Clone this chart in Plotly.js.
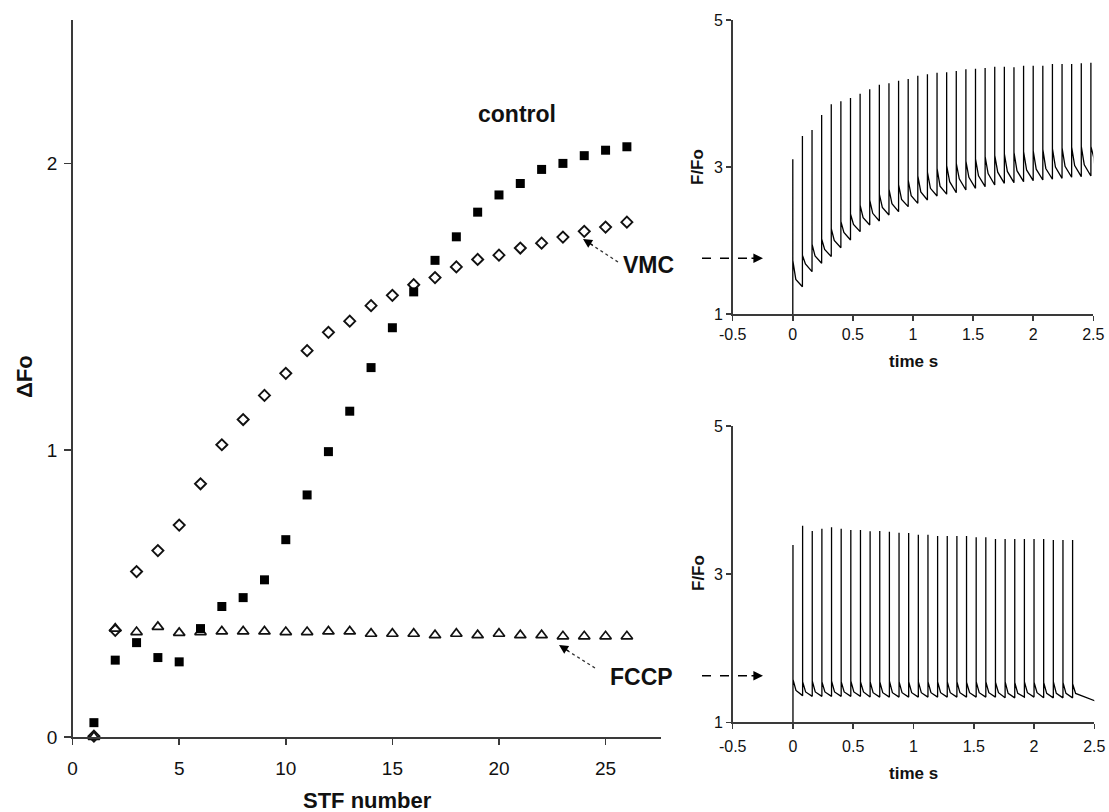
<!DOCTYPE html>
<html>
<head>
<meta charset="utf-8">
<script src="https://cdn.plot.ly/plotly-3.0.1.min.js"></script>
<style>html,body{margin:0;padding:0;background:#fff;}#chart{width:1109px;height:812px;}</style>
</head>
<body>
<div id="chart"></div>
<script>
// ---------- Main panel data (ΔFo vs STF number) ----------
const stfNumber = [1,2,3,4,5,6,7,8,9,10,11,12,13,14,15,16,17,18,19,20,21,22,23,24,25,26];
const controlDFo = [0.05,0.268,0.329,0.277,0.262,0.378,0.455,0.486,0.548,0.688,0.844,0.995,1.136,1.288,1.427,1.552,1.662,1.744,1.83,1.89,1.93,1.979,2.0,2.027,2.046,2.058];
const vmcDFo = [0.003,0.372,0.577,0.65,0.739,0.883,1.019,1.107,1.191,1.268,1.347,1.411,1.45,1.504,1.54,1.577,1.602,1.639,1.665,1.68,1.705,1.722,1.743,1.763,1.778,1.795];
const fccpDFo = [0.0,0.378,0.366,0.384,0.363,0.366,0.368,0.368,0.368,0.366,0.366,0.368,0.368,0.36,0.36,0.36,0.355,0.36,0.355,0.36,0.355,0.355,0.351,0.351,0.351,0.351];
const mainXTicks = [0,5,10,15,20,25];
const mainYTicks = [0,1,2];

// ---------- Top inset (control trace, F/Fo vs time s) ----------
const timesA = [0,0.08,0.16,0.24,0.32,0.40,0.48,0.56,0.64,0.72,0.80,0.88,0.96,1.04,1.12,1.20,1.28,1.36,1.44,1.52,1.60,1.68,1.76,1.84,1.92,2.00,2.08,2.16,2.24,2.32,2.40,2.48];
const troughsA = [1.0,1.371,1.576,1.69,1.781,1.902,2.007,2.12,2.211,2.265,2.347,2.392,2.46,2.506,2.551,2.605,2.63,2.65,2.687,2.71,2.732,2.755,2.778,2.787,2.80,2.814,2.823,2.833,2.846,2.86,2.869,2.878];
const peaksA = [3.105,3.422,3.503,3.707,3.853,3.894,3.939,3.997,4.057,4.12,4.139,4.174,4.197,4.242,4.261,4.283,4.288,4.306,4.329,4.337,4.347,4.365,4.365,4.356,4.378,4.378,4.378,4.401,4.401,4.401,4.41,4.418];
const shouldersA = [1.73,1.80,1.95,2.02,2.16,2.26,2.36,2.48,2.55,2.63,2.70,2.76,2.82,2.88,2.93,2.98,3.02,3.05,3.08,3.11,3.14,3.16,3.18,3.20,3.21,3.22,3.24,3.25,3.26,3.27,3.28,3.28];
const kneesA = [1.47,1.68,1.79,1.88,2.0,2.11,2.22,2.31,2.37,2.45,2.5,2.56,2.61,2.66,2.71,2.74,2.80,2.84,2.86,2.88,2.91,2.93,2.94,2.95,2.96,2.97,2.98,3.0,3.01,3.02,3.03,3.12];
const kneeDelay = 0.025;
const endA = [2.51, 3.05];

// ---------- Bottom inset (FCCP trace) ----------
const timesB = [0,0.08,0.16,0.24,0.32,0.40,0.48,0.56,0.64,0.72,0.80,0.88,0.96,1.04,1.12,1.20,1.28,1.36,1.44,1.52,1.60,1.68,1.76,1.84,1.92,2.00,2.08,2.16,2.24,2.32];
const troughsB = [1.0,1.36,1.35,1.35,1.35,1.35,1.35,1.35,1.34,1.34,1.34,1.34,1.34,1.34,1.34,1.34,1.34,1.34,1.34,1.34,1.34,1.34,1.33,1.33,1.34,1.34,1.33,1.33,1.33,1.33];
const peaksB = [3.393,3.653,3.582,3.613,3.632,3.613,3.595,3.595,3.578,3.582,3.572,3.559,3.555,3.532,3.532,3.514,3.514,3.514,3.514,3.497,3.497,3.474,3.474,3.474,3.474,3.474,3.474,3.46,3.46,3.46];
const shouldersB = [1.58,1.55,1.56,1.55,1.56,1.55,1.56,1.55,1.55,1.55,1.56,1.55,1.55,1.55,1.55,1.55,1.55,1.55,1.54,1.55,1.55,1.54,1.55,1.54,1.55,1.54,1.54,1.55,1.54,1.52];
const kneesB = [1.43,1.41,1.41,1.41,1.41,1.41,1.41,1.41,1.40,1.40,1.40,1.40,1.40,1.40,1.40,1.40,1.40,1.40,1.40,1.40,1.40,1.40,1.39,1.39,1.40,1.40,1.39,1.39,1.39,1.39];
const endB = [2.52, 1.28];

const insetXTicks = [-0.5,0,0.5,1,1.5,2,2.5];
const insetXLabels = ['-0.5','0','0.5','1','1.5','2','2.5'];
const insetYTicks = [1,3,5];

function buildTrace(times, troughs, peaks, shoulders, knees, end) {
  const x = [], y = [];
  for (let i = 0; i < times.length; i++) {
    x.push(times[i], times[i], times[i], times[i] + kneeDelay);
    y.push(troughs[i], peaks[i], shoulders[i], knees[i]);
  }
  x.push(end[0]); y.push(end[1]);
  return {x, y};
}
const trA = buildTrace(timesA, troughsA, peaksA, shouldersA, kneesA, endA);
const trB = buildTrace(timesB, troughsB, peaksB, shouldersB, kneesB, endB);

const W = 1109, H = 812;
const px = v => v / W;
const py = v => 1 - v / H;
const FONT = 'Liberation Sans, Arial, Helvetica, sans-serif';
const AX = '#3a3a3a';

const data = [
  {x: stfNumber, y: fccpDFo, xaxis: 'x', yaxis: 'y', mode: 'markers', type: 'scatter', cliponaxis: false,
   marker: {symbol: 'triangle-up-open', size: 10, color: '#111', line: {width: 1.7, color: '#111'}}},
  {x: stfNumber, y: vmcDFo, xaxis: 'x', yaxis: 'y', mode: 'markers', type: 'scatter', cliponaxis: false,
   marker: {symbol: 'diamond-open', size: 8.5, color: '#111', line: {width: 1.9, color: '#111'}}},
  {x: stfNumber, y: controlDFo, xaxis: 'x', yaxis: 'y', mode: 'markers', type: 'scatter', cliponaxis: false,
   marker: {symbol: 'square', size: 9, color: '#000'}},
  {x: trA.x, y: trA.y, xaxis: 'x2', yaxis: 'y2', mode: 'lines', type: 'scatter',
   line: {color: '#000', width: 1.3}},
  {x: trB.x, y: trB.y, xaxis: 'x3', yaxis: 'y3', mode: 'lines', type: 'scatter',
   line: {color: '#000', width: 1.3}}
];

const baseAxis = {showgrid: false, zeroline: false, showline: true, linecolor: AX, linewidth: 1.5,
  ticks: 'outside', tickcolor: AX, tickwidth: 1.5, fixedrange: true};

const layout = {
  width: W, height: H, margin: {l: 0, r: 0, t: 0, b: 0},
  paper_bgcolor: '#fff', plot_bgcolor: '#fff', showlegend: false,
  font: {family: FONT, color: '#111'},
  xaxis: Object.assign({}, baseAxis, {domain: [px(72.6), px(661)], range: [0, 27.6], anchor: 'y',
    tickvals: mainXTicks, ticklen: 6, tickfont: {size: 19}, ticklabelstandoff: 8}),
  yaxis: Object.assign({}, baseAxis, {domain: [py(737), py(20)], range: [0, 2.5], anchor: 'x',
    tickvals: mainYTicks, ticklen: 7, tickfont: {size: 19}, ticklabelstandoff: 3}),
  xaxis2: Object.assign({}, baseAxis, {domain: [px(732.7), px(1093.3)], range: [-0.5, 2.5], anchor: 'y2',
    tickvals: insetXTicks, ticktext: insetXLabels, ticklen: 5, tickfont: {size: 16}}),
  yaxis2: Object.assign({}, baseAxis, {domain: [py(314), py(20)], range: [1, 5], anchor: 'x2',
    tickvals: insetYTicks, ticklen: 5, tickfont: {size: 16}}),
  xaxis3: Object.assign({}, baseAxis, {domain: [px(732.7), px(1094.3)], range: [-0.5, 2.5], anchor: 'y3',
    tickvals: insetXTicks, ticktext: insetXLabels, ticklen: 5, tickfont: {size: 16}, ticklabelstandoff: 4}),
  yaxis3: Object.assign({}, baseAxis, {domain: [py(722.3), py(426)], range: [1, 5], anchor: 'x3',
    tickvals: insetYTicks, ticklen: 5, tickfont: {size: 16}}),
  shapes: [
    {type: 'line', xref: 'paper', yref: 'paper', x0: px(618), y0: py(262), x1: px(592), y1: py(245),
     line: {color: '#333', width: 1.3, dash: 'dot'}},
    {type: 'line', xref: 'paper', yref: 'paper', x0: px(595), y0: py(668), x1: px(568), y1: py(651),
     line: {color: '#333', width: 1.3, dash: 'dot'}},
    {type: 'line', xref: 'paper', yref: 'paper', x0: px(702), y0: py(258.3), x1: px(752), y1: py(258.3),
     line: {color: '#000', width: 1.6, dash: 'dash'}},
    {type: 'line', xref: 'paper', yref: 'paper', x0: px(702), y0: py(675.7), x1: px(752), y1: py(675.7),
     line: {color: '#000', width: 1.6, dash: 'dash'}}
  ],
  annotations: [
    {text: '<b>STF number</b>', xref: 'paper', yref: 'paper', x: px(367), y: py(800), showarrow: false,
     xanchor: 'center', yanchor: 'middle', font: {size: 22}},
    {text: '<b>ΔFo</b>', xref: 'paper', yref: 'paper', x: px(24), y: py(377), showarrow: false, textangle: -90,
     xanchor: 'center', yanchor: 'middle', font: {size: 22}},
    {text: '<b>control</b>', xref: 'paper', yref: 'paper', x: px(517), y: py(114), showarrow: false,
     xanchor: 'center', yanchor: 'middle', font: {size: 23}},
    {text: '<b>VMC</b>', xref: 'paper', yref: 'paper', x: px(648), y: py(265), showarrow: false,
     xanchor: 'center', yanchor: 'middle', font: {size: 23}},
    {text: '<b>FCCP</b>', xref: 'paper', yref: 'paper', x: px(641), y: py(677), showarrow: false,
     xanchor: 'center', yanchor: 'middle', font: {size: 23}},
    {text: '<b>F/Fo</b>', xref: 'paper', yref: 'paper', x: px(698), y: py(167), showarrow: false, textangle: -90,
     xanchor: 'center', yanchor: 'middle', font: {size: 17}},
    {text: '<b>time s</b>', xref: 'paper', yref: 'paper', x: px(913), y: py(362), showarrow: false,
     xanchor: 'center', yanchor: 'middle', font: {size: 17}},
    {text: '<b>F/Fo</b>', xref: 'paper', yref: 'paper', x: px(698), y: py(573), showarrow: false, textangle: -90,
     xanchor: 'center', yanchor: 'middle', font: {size: 17}},
    {text: '<b>time s</b>', xref: 'paper', yref: 'paper', x: px(913), y: py(773), showarrow: false,
     xanchor: 'center', yanchor: 'middle', font: {size: 17}},
    // arrowheads
    {text: '', xref: 'paper', yref: 'paper', x: px(583), y: py(239), showarrow: true, ax: 11, ay: 7,
     arrowhead: 2, arrowsize: 1.3, arrowwidth: 1.4, arrowcolor: '#000', standoff: 0},
    {text: '', xref: 'paper', yref: 'paper', x: px(559), y: py(645), showarrow: true, ax: 11, ay: 7,
     arrowhead: 2, arrowsize: 1.3, arrowwidth: 1.4, arrowcolor: '#000', standoff: 0},
    {text: '', xref: 'paper', yref: 'paper', x: px(763), y: py(258.3), showarrow: true, ax: -13, ay: 0,
     arrowhead: 2, arrowsize: 1.2, arrowwidth: 1.6, arrowcolor: '#000', standoff: 0},
    {text: '', xref: 'paper', yref: 'paper', x: px(763), y: py(675.7), showarrow: true, ax: -13, ay: 0,
     arrowhead: 2, arrowsize: 1.2, arrowwidth: 1.6, arrowcolor: '#000', standoff: 0}
  ]
};

Plotly.newPlot('chart', data, layout, {displayModeBar: false, staticPlot: true});
</script>
</body>
</html>
